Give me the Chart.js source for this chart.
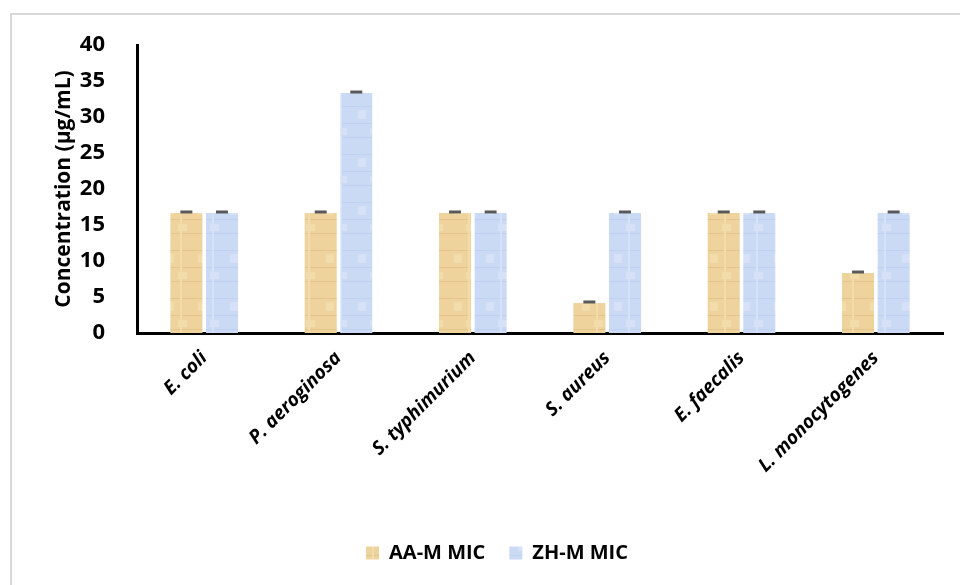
<!DOCTYPE html>
<html>
<head>
<meta charset="utf-8">
<script src="https://cdn.jsdelivr.net/npm/chart.js@4/dist/chart.umd.min.js"></script>
<style>
  body { margin: 0; background: #fff; }
  #wrap { position: relative; width: 960px; height: 585px; overflow: hidden; }
  #frame {
    position: absolute; left: 10px; top: 13px; width: 1000px; height: 700px;
    border-left: 2px solid #d9d9d9; border-top: 2px solid #d9d9d9;
    pointer-events: none;
  }
</style>
</head>
<body>
<div id="wrap">
  <div id="frame"></div>
  <canvas id="micChart" width="960" height="585"></canvas>
</div>
<script>
// Chart data
const categories = ["E. coli", "P. aeroginosa", "S. typhimurium", "S. aureus", "E. faecalis", "L. monocytogenes"];
const aamMic = [16.67, 16.67, 16.67, 4.17, 16.67, 8.33];
const zhmMic = [16.67, 33.33, 16.67, 16.67, 16.67, 16.67];
const aamErr = [0, 0, 0, 0, 0, 0];
const zhmErr = [0, 0, 0, 0, 0, 0];
const yTicks = [0, 5, 10, 15, 20, 25, 30, 35, 40];

// Textured fills (papyrus / blue tissue look)
function makePattern(base, streak, blot) {
  const c = document.createElement("canvas");
  c.width = 32;
  c.height = 48;
  const g = c.getContext("2d");
  g.fillStyle = base;
  g.fillRect(0, 0, 32, 48);
  g.fillStyle = streak;
  g.fillRect(0, 10, 32, 1);
  g.fillRect(0, 27, 32, 1);
  g.fillRect(0, 41, 32, 1);
  g.fillStyle = blot;
  g.fillRect(20, 0, 2, 48);
  g.fillRect(6, 14, 8, 9);
  g.fillRect(18, 32, 9, 7);
  return g.createPattern(c, "repeat");
}
const tanFill = makePattern("#eed49c", "#e3c48a", "#f2dcab");
const blueFill = makePattern("#cadaf5", "#bfd1f0", "#d6e1f8");

// Small caps on top of each bar (error bars)
const errorCaps = {
  id: "errorCaps",
  afterDatasetsDraw(chart) {
    const ctx = chart.ctx;
    const y = chart.scales.y;
    const errs = [aamErr, zhmErr];
    ctx.save();
    ctx.strokeStyle = "#595959";
    ctx.lineWidth = 3;
    chart.data.datasets.forEach((ds, di) => {
      chart.getDatasetMeta(di).data.forEach((bar, i) => {
        const top = y.getPixelForValue(ds.data[i] + errs[di][i]) - 1;
        ctx.beginPath();
        ctx.moveTo(bar.x - 6, top);
        ctx.lineTo(bar.x + 6, top);
        ctx.stroke();
      });
    });
    ctx.restore();
  },
};

const ctx = document.getElementById("micChart").getContext("2d");
new Chart(ctx, {
  type: "bar",
  data: {
    labels: categories,
    datasets: [
      {
        label: "AA-M MIC",
        data: aamMic,
        backgroundColor: tanFill,
        borderWidth: 0,
      },
      {
        label: "ZH-M MIC",
        data: zhmMic,
        backgroundColor: blueFill,
        borderWidth: 0,
      },
    ],
  },
  options: {
    responsive: false,
    animation: false,
    categoryPercentage: 0.53,
    barPercentage: 0.9,
    layout: {
      padding: { left: 51, right: 17, top: 45, bottom: 12 },
    },
    plugins: {
      legend: {
        position: "bottom",
        labels: {
          color: "#000",
          boxWidth: 13,
          boxHeight: 13,
          padding: 24,
          font: { family: "'Open Sans'", size: 20, weight: "bold" },
        },
      },
      tooltip: { enabled: false },
    },
    scales: {
      x: {
        grid: { display: false },
        border: { color: "#000", width: 3 },
        ticks: {
          color: "#000",
          maxRotation: 45,
          minRotation: 45,
          labelOffset: 0,
          padding: 6,
          font: { family: "'Open Sans'", size: 19, weight: "bold", style: "italic" },
        },
        afterFit: (scale) => {
          scale.height = 186;
        },
      },
      y: {
        min: 0,
        max: 40,
        grid: { display: false },
        border: { color: "#000", width: 3 },
        afterBuildTicks: (scale) => {
          scale.ticks = yTicks.map((v) => ({ value: v }));
        },
        ticks: {
          color: "#000",
          padding: 24,
          font: { family: "'Open Sans'", size: 22, weight: "bold" },
        },
        title: {
          display: true,
          text: "Concentration (μg/mL)",
          color: "#000",
          padding: 0,
          font: { family: "'Open Sans'", size: 21, weight: "bold" },
        },
        afterFit: (scale) => {
          scale.width = 86;
        },
      },
    },
  },
  plugins: [errorCaps],
});
</script>
</body>
</html>
